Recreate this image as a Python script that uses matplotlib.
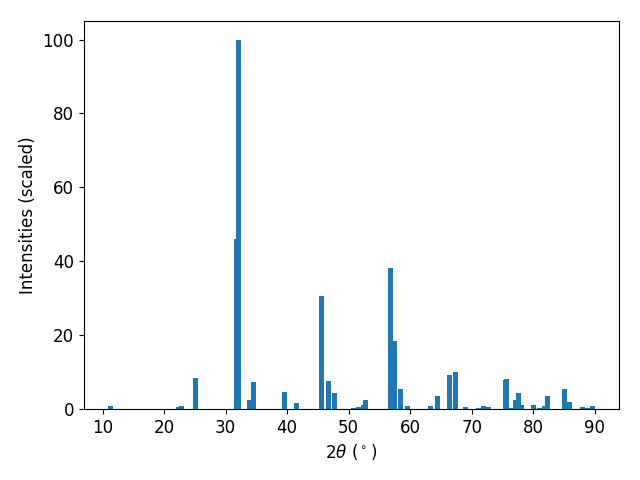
import matplotlib
matplotlib.use('Agg')
import matplotlib.pyplot as plt

# peak positions (2theta, degrees) and scaled intensities
two_theta = [11.30, 22.34, 22.82, 25.06, 31.75, 32.08, 33.86, 34.59, 39.55, 41.49,
             45.55, 46.69, 47.66, 50.75, 51.56, 52.37, 52.69, 56.75, 57.48, 58.38,
             59.51, 63.33, 64.38, 66.33, 67.31, 68.93, 71.04, 71.85, 72.74, 75.42,
             75.58, 76.23, 77.05, 77.53, 78.02, 79.97, 80.94, 81.75, 82.24, 85.00,
             85.81, 87.92, 88.73, 89.55]
intensity = [0.8, 0.5, 0.8, 8.4, 46.1, 100.0, 2.4, 7.3, 4.6, 1.6,
             30.6, 7.6, 4.3, 0.3, 0.5, 1.1, 2.4, 38.2, 18.4, 5.4,
             0.8, 0.8, 3.5, 9.2, 10.0, 0.5, 0.3, 0.8, 0.5, 7.8,
             8.1, 0.3, 2.4, 4.3, 1.1, 1.1, 0.3, 0.8, 3.5, 5.4,
             1.9, 0.5, 0.3, 0.8]

plt.rcParams['font.size'] = 12

plt.figure(figsize=(6.4, 4.8), dpi=100)
plt.bar(two_theta, intensity)
plt.xlabel(r'$2\theta$ ($^\circ$)')
plt.ylabel('Intensities (scaled)')
plt.subplots_adjust(left=0.131, right=0.967, top=0.956, bottom=0.148)
plt.savefig('out.png')
